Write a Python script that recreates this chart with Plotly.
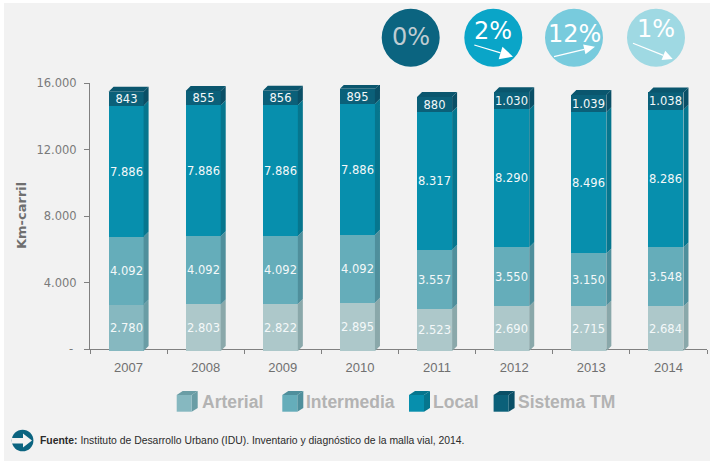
import plotly.graph_objects as go

# Road network length by type, km-carril
years = [2007, 2008, 2009, 2010, 2011, 2012, 2013, 2014]
arterial = [2780, 2803, 2822, 2895, 2523, 2690, 2715, 2684]
intermedia = [4092, 4092, 4092, 4092, 3557, 3550, 3150, 3548]
local = [7886, 7886, 7886, 7886, 8317, 8290, 8496, 8286]
sistema_tm = [843, 855, 856, 895, 880, 1030, 1039, 1038]

series_names = ["Arterial", "Intermedia", "Local", "Sistema TM"]
y_ticks = [0, 4000, 8000, 12000, 16000]
y_labels = ["-\u00a0", "4.000", "8.000", "12.000", "16.000"]
change_labels = ["0%", "2%", "12%", "1%"]

W, H = 710, 461
L, R, T, B = 90, 707, 83, 351
# The columns stand slightly below the axis line
COLUMN_DROP = 2

FRONT = {
    "Arterial": ["#86b8c0"] + ["#adc8ca"] * 7,
    "Intermedia": ["#65adba"] * 8,
    "Local": ["#078fad"] * 8,
    "Sistema TM": ["#0b6079"] * 8,
}
SIDE = {
    "Arterial": ["#6a9da5"] + ["#8aa8aa"] * 7,
    "Intermedia": ["#4f8f9c"] * 8,
    "Local": ["#06768e"] * 8,
    "Sistema TM": ["#0a4f66"] * 8,
}
TOP_COLOR = "#0a566e"
GREY = "#808080"

BAR_W = 35 / 77
BAR_SHIFT = -2.5 / 77
DEPTH_X = 5 / 77
DEPTH_Y = 5 * 16000 / (B - T - COLUMN_DROP)

VALUE_FONT = dict(family="DejaVu Sans", size=11.5, color="#f4f8f9")


def px(x):
    return (x - L) / (R - L)


def py(y):
    return (B - y) / (B - T)


def thousands(v):
    return f"{v:,}".replace(",", ".")


def poly(points, color):
    d = "M" + "L".join(f"{px(x):.5f},{py(y):.5f}" for x, y in points) + "Z"
    return dict(type="path", xref="paper", yref="paper", path=d,
                fillcolor=color, line=dict(width=0), layer="above")


def circle(cx, cy, r, color):
    return dict(type="circle", xref="paper", yref="paper",
                x0=px(cx - r), x1=px(cx + r), y0=py(cy + r), y1=py(cy - r),
                fillcolor=color, line=dict(width=0), layer="above")


def arrow(x0, y0, x1, y1, head, half):
    """White trend arrow: a thin shaft ending in a triangular head."""
    dx, dy = x1 - x0, y1 - y0
    n = (dx * dx + dy * dy) ** 0.5
    ux, uy = dx / n, dy / n
    bx, by = x1 - ux * head, y1 - uy * head
    nx, ny = -uy, ux
    return [
        poly([(x0 - nx * 0.6, y0 - ny * 0.6), (bx - nx * 0.6, by - ny * 0.6),
              (bx + nx * 0.6, by + ny * 0.6), (x0 + nx * 0.6, y0 + ny * 0.6)], "#ffffff"),
        poly([(x1, y1), (bx + nx * half, by + ny * half), (bx - nx * half, by - ny * half)], "#ffffff"),
    ]


fig = go.Figure()
stacks = dict(zip(series_names, [arterial, intermedia, local, sistema_tm]))

# Carrier trace that keeps the labelled axes on screen
fig.add_scatter(x=years, y=[0] * len(years), mode="lines", line=dict(width=0, color="rgba(0,0,0,0)"),
                showlegend=False, hoverinfo="skip")

# Front faces of the stacked columns
for name in series_names:
    values = stacks[name]
    fig.add_bar(
        x=[y + BAR_SHIFT for y in years], y=values, name=name, width=BAR_W, yaxis="y2",
        marker=dict(color=FRONT[name], line=dict(width=0)),
        text=[thousands(v) for v in values], textposition="inside",
        insidetextanchor="middle", textangle=0, constraintext="none",
        textfont=VALUE_FONT, showlegend=False, hoverinfo="skip",
    )

# Side faces and top caps give each column its depth
base = [0] * len(years)
for name in series_names:
    values = stacks[name]
    by_colour = {}
    for i, yr in enumerate(years):
        x0 = yr + BAR_SHIFT + BAR_W / 2
        x1 = x0 + DEPTH_X
        lo, hi = base[i], base[i] + values[i]
        by_colour.setdefault(SIDE[name][i], []).append(
            ([x0, x1, x1, x0, x0, None], [lo, lo + DEPTH_Y, hi + DEPTH_Y, hi, lo, None]))
    for colour, polys in by_colour.items():
        xs = [v for p in polys for v in p[0]]
        ys = [v for p in polys for v in p[1]]
        fig.add_scatter(x=xs, y=ys, mode="lines", fill="toself", fillcolor=colour, yaxis="y2",
                        line=dict(width=0, color=colour), showlegend=False, hoverinfo="skip")
    base = [b + v for b, v in zip(base, values)]

cap_x, cap_y = [], []
for yr, top in zip(years, base):
    x0 = yr + BAR_SHIFT - BAR_W / 2
    x1 = yr + BAR_SHIFT + BAR_W / 2
    cap_x += [x0, x0 + DEPTH_X, x1 + DEPTH_X, x1, x0, None]
    cap_y += [top, top + DEPTH_Y, top + DEPTH_Y, top, top, None]
fig.add_scatter(x=cap_x, y=cap_y, mode="lines", fill="toself", fillcolor=TOP_COLOR, yaxis="y2",
                line=dict(width=0, color=TOP_COLOR), showlegend=False, hoverinfo="skip")

# Grey panel behind everything
shapes = [dict(type="rect", xref="paper", yref="paper", x0=px(4), x1=px(W), y0=py(H), y1=py(3),
               fillcolor="#f2f2f2", line=dict(width=0), layer="below")]
annotations = []


def label(x, y, text, font, anchor="center", angle=0):
    annotations.append(dict(xref="paper", yref="paper", x=px(x), y=py(y), text=text, showarrow=False,
                            xanchor=anchor, yanchor="middle", font=font, textangle=angle))


# Trend badges above the columns
badge_centres = [410.7, 493.3, 574, 656]
badge_colours = ["#0b6480", "#0aa5c8", "#78cbdd", "#9fd9e3"]
badge_text_y = [37, 31, 34, 29]
badge_text_colours = ["#bfccd2", "#ffffff", "#ffffff", "#ffffff"]
for cx, colour, ty, tc, txt in zip(badge_centres, badge_colours, badge_text_y, badge_text_colours, change_labels):
    shapes.append(circle(cx, 37.7, 29, colour))
    label(cx, ty, txt, dict(family="DejaVu Sans", size=24, color=tc))
shapes += arrow(474.3, 45, 513, 56.7, 13, 6.5)
shapes += arrow(554, 56.7, 595, 46.7, 11, 5)
shapes += arrow(633, 43.3, 672.7, 59, 10, 5)

# Legend with small cube swatches
swatch_x = [176.7, 282.3, 409, 493.6]
legend_x = [199.5, 304, 431, 515.6]
swatch_front = ["#86b8c0", "#65adba", "#078fad", "#0b6079"]
swatch_side = ["#6a9da5", "#4f8f9c", "#06768e", "#0a4f66"]
legend_font = dict(family="Liberation Sans", size=17.5, color="#b3b3b3")
for sx, lx, f, s, name in zip(swatch_x, legend_x, swatch_front, swatch_side, series_names):
    shapes.append(poly([(sx + 15, 395), (sx + 21, 391), (sx + 21, 408), (sx + 15, 411.7)], s))
    shapes.append(poly([(sx, 395), (sx + 6, 391), (sx + 21, 391), (sx + 15, 395)], s))
    shapes.append(poly([(sx, 395), (sx + 15, 395), (sx + 15, 411.7), (sx, 411.7)], f))
    label(lx, 401.7, f"<b>{name}</b>", legend_font, anchor="left")

# Source line with its arrow icon
shapes.append(circle(22.6, 440.5, 10.8, "#0b6480"))
shapes.append(poly([(12, 438), (23, 438), (23, 433.5), (32, 440.5), (23, 447.5), (23, 443.5), (12, 443.5)], "#f2f2f2"))
label(37.8, 440, "<b>Fuente:</b> Instituto de Desarrollo Urbano (IDU). Inventario y diagnóstico de la malla vial, 2014.",
      dict(family="Liberation Sans", size=10.4, color="#2b2b2b"), anchor="left")

# Value axis title
label(21, 216, "<b>Km-carril</b>", dict(family="DejaVu Sans", size=13, color="#6f6f6f"), angle=-90)

axis_bottom = COLUMN_DROP / (B - T)
fig.update_layout(
    width=W, height=H, barmode="stack", bargap=0,
    paper_bgcolor="#ffffff", plot_bgcolor="rgba(0,0,0,0)",
    margin=dict(l=L, r=W - R, t=T, b=H - B, pad=0, autoexpand=False),
    shapes=shapes, annotations=annotations,
    xaxis=dict(range=[2006.5, 2014.5], anchor="y", tickvals=years, ticktext=[str(y) for y in years],
               ticks="", showgrid=False, zeroline=False, showline=True, linecolor=GREY, linewidth=1,
               tickfont=dict(family="Liberation Sans", size=13, color="#707070"),
               ticklabelstandoff=6,
               minor=dict(tickvals=[y - 0.5 for y in years] + [2014.5], ticks="outside", ticklen=4,
                          tickcolor=GREY, tickwidth=1, showgrid=False)),
    yaxis=dict(domain=[axis_bottom, 1], range=[0, 16000], tickvals=y_ticks, ticktext=y_labels,
               ticks="outside", ticklen=5, tickcolor=GREY, tickwidth=1, showgrid=False, zeroline=False,
               showline=True, linecolor=GREY, linewidth=1, ticklabelstandoff=5,
               tickfont=dict(family="DejaVu Sans", size=11.5, color="#7a7a7a")),
    # Scale the columns are drawn on: same units per pixel as the labelled axis
    yaxis2=dict(domain=[0, 1 - axis_bottom], range=[0, 16000], anchor="x", visible=False),
)

fig.write_html("out.html")
